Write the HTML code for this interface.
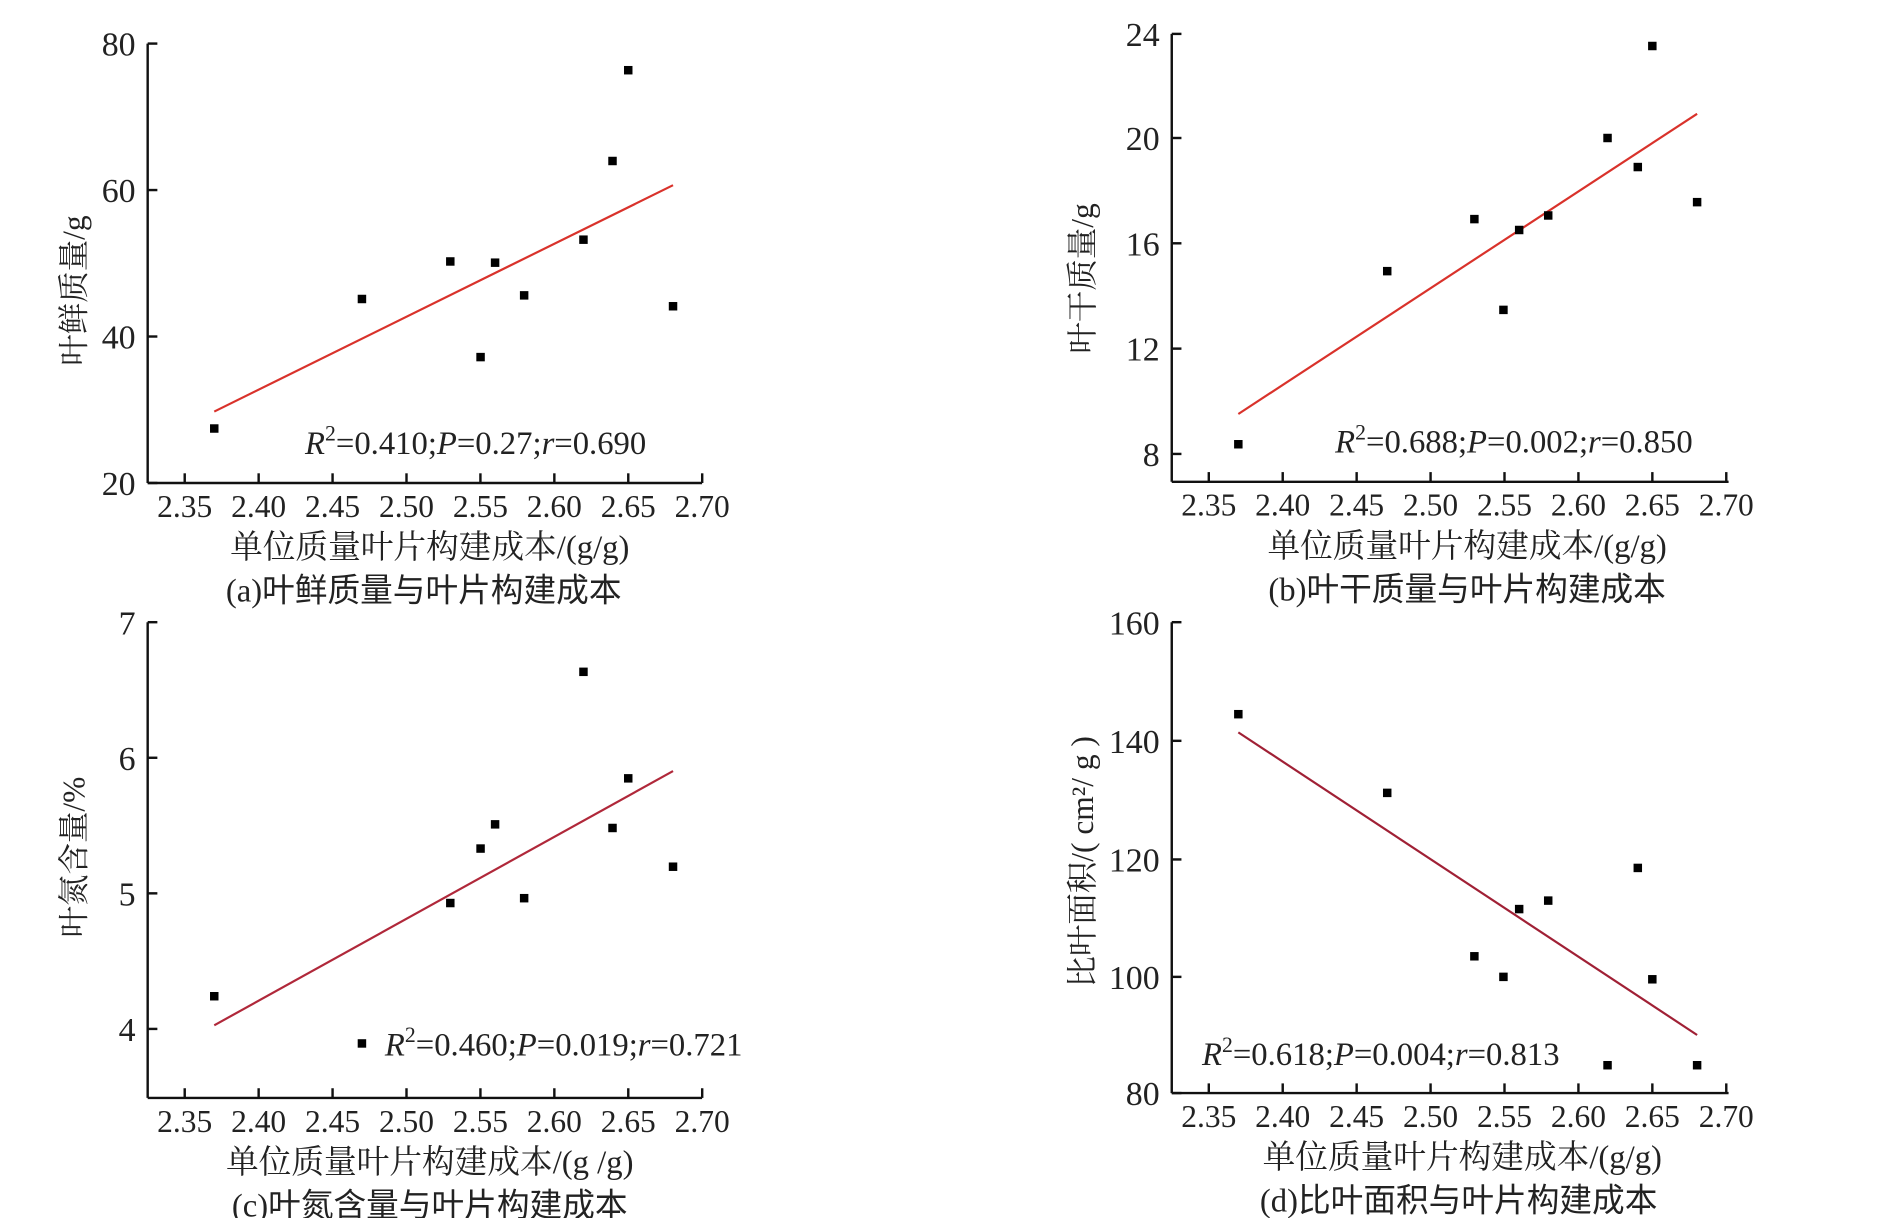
<!DOCTYPE html>
<html><head><meta charset="utf-8">
<style>
html,body{margin:0;padding:0;background:#fff;}
svg{display:block;}
text{font-family:"Liberation Serif","Noto Serif CJK SC",serif;fill:#222;}
.cap{font-family:"Liberation Serif","Noto Sans CJK SC",sans-serif;}
</style></head>
<body>
<svg id="s" width="1892" height="1218" viewBox="0 0 1563 1006.2" xmlns="http://www.w3.org/2000/svg"></svg>
<script>
const S=document.getElementById('s');let h='';
function panel(p){
 const {ax,top,bot,xend,yt,x235,pts,line,color,stat,sx,sy,yl,ylx,yly,xl,xlx,cap,capx}=p;
 h+=`<line x1="${ax}" y1="${top}" x2="${ax}" y2="${bot}" stroke="#111" stroke-width="2"/>`;
 h+=`<line x1="${ax}" y1="${bot}" x2="${xend}" y2="${bot}" stroke="#111" stroke-width="2"/>`;
 yt.forEach(([v,y])=>{h+=`<line x1="${ax}" y1="${y}" x2="${ax+8}" y2="${y}" stroke="#111" stroke-width="2"/><text x="${ax-10}" y="${y+10}" font-size="28" text-anchor="end">${v}</text>`;});
 for(let i=0;i<8;i++){const x=x235+i*61.07;const v=(2.35+i*0.05).toFixed(2);
  h+=`<line x1="${x}" y1="${bot}" x2="${x}" y2="${bot-8}" stroke="#111" stroke-width="2"/><text x="${x}" y="${bot+28}" font-size="26" text-anchor="middle">${v}</text>`;}
 h+=`<line x1="${line[0]}" y1="${line[1]}" x2="${line[2]}" y2="${line[3]}" stroke="${color}" stroke-width="1.8"/>`;
 pts.forEach(([x,y])=>{h+=`<rect x="${x-3.5}" y="${y-3.5}" width="7" height="7" fill="#000"/>`;});
 h+=`<text x="${sx}" y="${sy}" font-size="27"><tspan font-style="italic">R</tspan><tspan font-size="18" dy="-11">2</tspan><tspan dy="11">=${stat[0]};</tspan><tspan font-style="italic">P</tspan>=${stat[1]};<tspan font-style="italic">r</tspan>=${stat[2]}</text>`;
 h+=`<text transform="translate(${ylx},${yly}) rotate(-90)" font-size="26" text-anchor="middle">${yl}</text>`;
 h+=`<text x="${xlx}" y="${bot+62}" font-size="27" text-anchor="middle">${xl}</text>`;
 h+=`<text class="cap" x="${capx}" y="${bot+98}" font-size="27" text-anchor="middle">${cap}</text>`;
}
panel({ax:122,top:36,bot:399,xend:580,yt:[[80,36],[60,157],[40,278],[20,399]],x235:152.6,
 pts:[[177,354],[299,247],[372,216],[397,295],[409,217],[433,244],[482,198],[506,133],[519,58],[556,253]],
 line:[177,340,556,153],color:'#d9322b',stat:['0.410','0.27','0.690'],sx:252,sy:375,
 yl:'叶鲜质量/g',ylx:70,yly:240,xl:'单位质量叶片构建成本/(g/g)',xlx:355,cap:'(a)叶鲜质量与叶片构建成本',capx:350});
panel({ax:968,top:28,bot:398,xend:1428,yt:[[24,28],[20,114],[16,201],[12,288],[8,375]],x235:998.6,
 pts:[[1023,367],[1146,224],[1218,181],[1242,256],[1255,190],[1279,178],[1328,114],[1353,138],[1365,38],[1402,167]],
 line:[1023,342,1402,94],color:'#d9322b',stat:['0.688','0.002','0.850'],sx:1103,sy:374,
 yl:'叶干质量/g',ylx:903,yly:230,xl:'单位质量叶片构建成本/(g/g)',xlx:1212,cap:'(b)叶干质量与叶片构建成本',capx:1212});
panel({ax:122,top:514,bot:907,xend:580,yt:[[7,514],[6,626],[5,738],[4,850]],x235:152.6,
 pts:[[177,823],[299,862],[372,746],[397,701],[409,681],[433,742],[482,555],[506,684],[519,643],[556,716]],
 line:[177,847,556,637],color:'#b0283a',stat:['0.460','0.019','0.721'],sx:318,sy:872,
 yl:'叶氮含量/%',ylx:70,yly:708,xl:'单位质量叶片构建成本/(g /g)',xlx:355,cap:'(c)叶氮含量与叶片构建成本',capx:355});
panel({ax:968,top:514,bot:903,xend:1428,yt:[[160,514],[140,612],[120,710],[100,807],[80,903]],x235:998.6,
 pts:[[1023,590],[1146,655],[1218,790],[1242,807],[1255,751],[1279,744],[1328,880],[1353,717],[1365,809],[1402,880]],
 line:[1023,605,1402,855],color:'#a02035',stat:['0.618','0.004','0.813'],sx:993,sy:880,
 yl:'比叶面积/( cm²/ g )',ylx:903,yly:712,xl:'单位质量叶片构建成本/(g/g)',xlx:1208,cap:'(d)比叶面积与叶片构建成本',capx:1205});
S.innerHTML=h;
</script>
</body></html>
